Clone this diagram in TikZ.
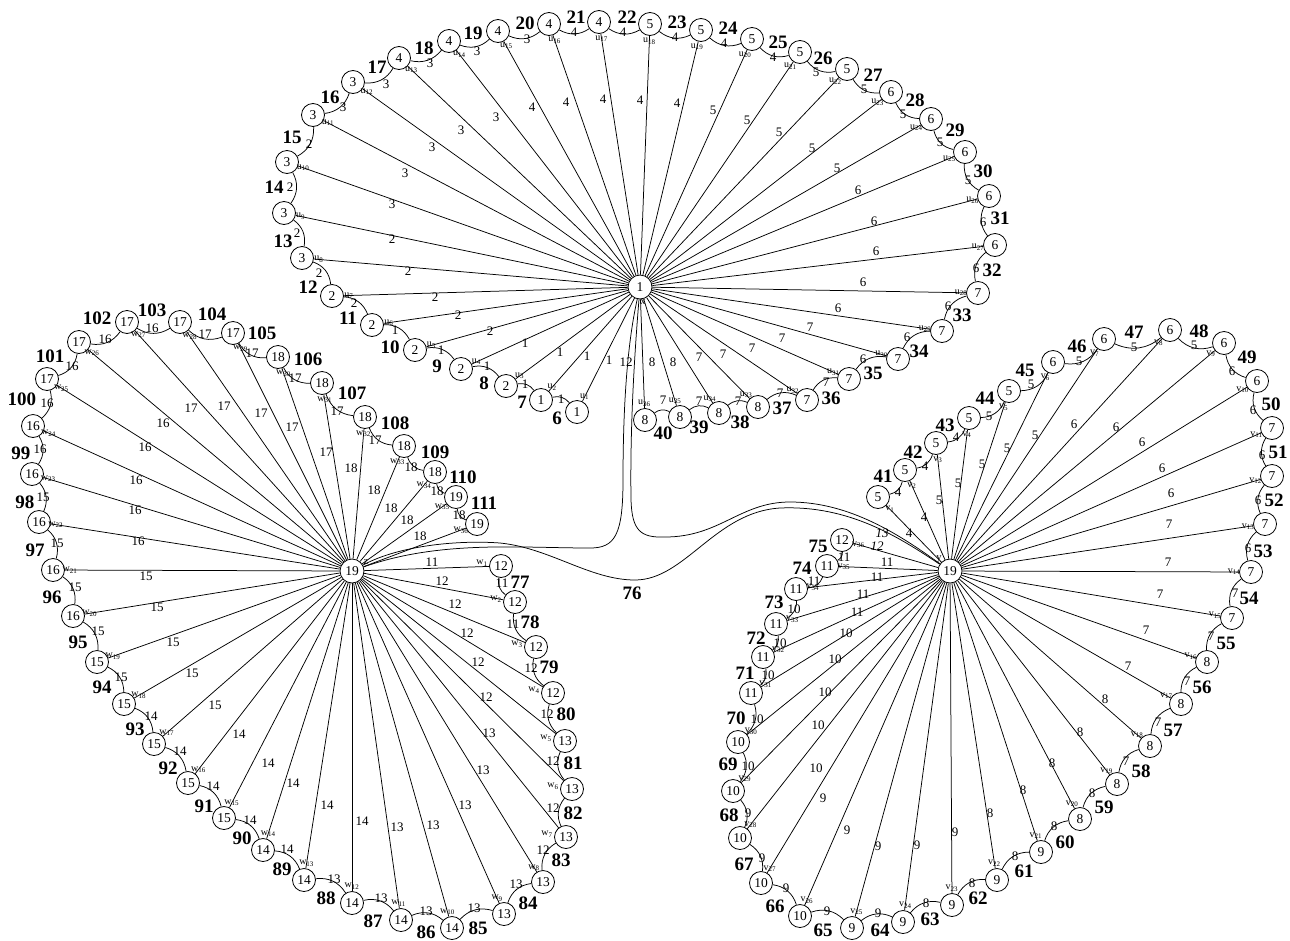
\documentclass[tikz,border=0pt]{standalone}
\usepackage{fontspec}
\setmainfont{Liberation Serif}
\usetikzlibrary{calc}
\pgfdeclarelayer{bg}
\pgfsetlayers{bg,main}
\tikzset{
  vtx/.style={circle,draw,fill=white,line width=0.8pt,minimum size=23pt,inner sep=0pt,font=\fontsize{13.5}{14}\selectfont},
  hub/.style={vtx,minimum size=24pt},
  edg/.style={line width=0.75pt},
  rim/.style={edg,bend right=32},
  wlab/.style={inner sep=0pt,font=\fontsize{13}{14}\selectfont},
  ilab/.style={inner sep=0pt,font=\fontsize{13}{14}\selectfont\itshape},
  blab/.style={inner sep=0pt,font=\fontsize{19}{20}\selectfont\bfseries},
  slab/.style={inner sep=0pt,font=\fontsize{10}{10}\selectfont},
  hlab/.style={inner sep=0pt,font=\fontsize{10.5}{11}\selectfont},
}
\begin{document}
\begin{tikzpicture}[x=1pt,y=1pt]
\useasboundingbox (0,-940) rectangle (1290,0);
% hubs
\node[hub] (x) at (640,-287) {1};
\node[hub] (z) at (352,-571) {19};
\node[hub] (y) at (950,-571) {19};
\node[hlab] (xl) at (643,-302) {x};
\node[hlab] (zl) at (366,-562) {z};
\node[hlab] (yl) at (939,-559) {y};

% ---------- top wheel ----------
\foreach \i/\px/\py/\nn/\ww/\lx/\ly in {
1/577/412/1/1/609/360, 2/541/400/1/1/587/356, 3/506/386/2/1/560/352, 4/461/369/2/1/525/343,
5/415/350/2/2/490/331, 6/372/325/2/2/458/315, 7/332/296/2/2/435/297, 8/302/258/3/2/408/271,
9/284/213/3/2/392/239, 10/287/162/3/3/392/204, 11/313/115/3/3/405/173, 12/353/82/3/3/432/147,
13/399/58/4/3/461/130, 14/449/41/4/3/496/117, 15/498/31/4/4/532/107, 16/549/24/4/4/566/102,
17/599/22/4/4/603/99, 18/650/24/5/4/640/100, 19/701/30/5/4/677/103, 20/752/39/5/5/713/110,
21/800/52/5/5/747/120, 22/847/69/5/5/779/132, 23/891/92/6/5/812/148, 24/931/119/6/5/837/168,
25/965/152/6/6/858/190, 26/989/196/6/6/874/221, 27/995/245/6/6/876/251, 28/978/293/7/6/863/282,
29/942/331/7/6/838/308, 30/898/359/7/7/810/327, 31/849/379/7/7/782/338, 32/807/400/7/7/752/348,
33/758/407/8/7/723/354, 34/719/413/8/7/699/357, 35/680/417/8/8/673/362, 36/645/420/8/8/652/362}{
  \node[vtx] (u\i) at (\px,-\py) {\nn};
  \node[wlab] at (\lx,-\ly) {\ww};
  \node[slab] at ($(u\i)!17pt!(x)$) {u\textsubscript{\i}};
}
% ---------- left wheel ----------
\foreach \i/\px/\py/\nn/\ww/\lx/\ly in {
1/501/566/12/11/432/562, 2/515/602/12/12/442/581, 3/536/647/12/12/455/604, 4/553/693/12/12/467/633,
5/565/741/13/12/478/662, 6/572/789/13/12/486/697, 7/566/837/13/13/489/733, 8/543/882/13/13/483/770,
9/504/914/13/13/465/805, 10/452/928/14/13/433/825, 11/401/920/14/13/397/827, 12/352/903/14/14/362/821,
13/304/880/14/14/327/805, 14/263/850/14/14/293/783, 15/224/818/15/14/268/763, 16/188/783/15/14/239/734,
17/154/744/15/15/215/705, 18/124/704/15/15/192/673, 19/97/662/15/15/173/642, 20/73/616/16/15/157/607,
21/53/570/16/15/146/576, 22/39/522/16/16/138/541, 23/32/474/16/16/135/510, 24/33/426/16/16/136/480,
25/47/379/17/16/145/447, 26/79/342/17/16/163/423, 27/127/322/17/17/191/408, 28/180/322/17/17/224/406,
29/233/333/17/17/261/413, 30/278/357/18/17/292/427, 31/322/383/18/17/326/452, 32/365/417/18/18/351/468,
33/404/446/18/18/374/490, 34/435/472/18/18/391/508, 35/456/497/19/18/407/520, 36/477/524/19/18/420/536}{
  \node[vtx] (w\i) at (\px,-\py) {\nn};
  \node[wlab] at (\lx,-\ly) {\ww};
  \ifnum\i<8
    \node[slab] at ($(w\i)+(-19,3)$) {w\textsubscript{\i}};
  \else
    \node[slab] at ($(w\i)!17pt!(z)$) {w\textsubscript{\i}};
  \fi
}
% ---------- right wheel ----------
\foreach \i/\px/\py/\nn/\ww/\lx/\ly in {
1/878/497/5/4/909/533, 2/905/470/5/4/924/517, 3/936/443/5/5/939/500, 4/969/418/5/5/958/483,
5/1009/391/5/5/982/464, 6/1053/362/6/5/1007/448, 7/1104/339/6/5/1035/435, 8/1170/330/6/6/1074/424,
9/1224/343/6/6/1116/427, 10/1257/381/6/6/1142/442, 11/1272/428/7/6/1162/468, 12/1272/476/7/6/1171/493,
13/1265/524/7/7/1169/524, 14/1251/572/7/7/1168/562, 15/1232/618/7/7/1160/594, 16/1207/662/8/7/1146/630,
17/1181/704/8/7/1128/666, 18/1150/746/8/8/1105/699, 19/1117/784/8/8/1080/732, 20/1080/819/8/8/1052/763,
21/1041/852/9/8/1023/790, 22/997/880/9/8/990/813, 23/952/905/9/9/955/832, 24/903/922/9/9/917/845,
25/852/928/9/9/878/846, 26/800/916/10/9/847/830, 27/761/883/10/9/823/798, 28/740/838/10/10/816/768,
29/733/791/10/10/818/725, 30/738/742/10/10/825/692, 31/751/693/11/10/835/659, 32/763/657/11/10/846/633,
33/776/624/11/11/857/612, 34/796/589/11/11/863/594, 35/827/566/11/11/877/577, 36/842/540/12/11/887/562}{
  \node[vtx] (v\i) at (\px,-\py) {\nn};
  \node[wlab] at (\lx,-\ly) {\ww};
  \node[slab] at ($(v\i)!17pt!(y)$) {v\textsubscript{\i}};
}

\begin{pgfonlayer}{bg}
% spokes
\foreach \i in {1,...,36}{
  \draw[edg] (x) -- (u\i);
  \draw[edg] (z) -- (w\i);
  \draw[edg] (y) -- (v\i);
}
% top rim
\foreach \i/\j/\ww/\wx/\wy/\bn/\bx/\by in {
1/2/1/561/399/6/557/418, 2/3/1/525/384/7/522/402, 3/4/1/487/366/8/484/383, 4/5/1/441/350/9/437/366,
5/6/1/395/330/10/390/347, 6/7/2/354/303/11/348/318, 7/8/2/319/273/12/308/287, 8/9/2/297/233/13/283/241,
9/10/2/290/187/14/274/187, 10/11/2/309/144/15/292/137, 11/12/3/343/107/16/330/97, 12/13/3/386/84/17/377/67,
13/14/3/430/63/18/424/48, 14/15/3/477/51/19/473/33, 15/16/3/527/39/20/525/23, 16/17/4/574/32/21/576/17,
17/18/4/623/32/22/627/17, 18/19/4/675/37/23/677/22, 19/20/4/724/43/24/728/28, 20/21/4/773/57/25/778/42,
21/22/5/816/72/26/823/58, 22/23/5/864/89/27/873/75, 23/24/5/903/114/28/915/100, 24/25/5/940/142/29/955/130,
25/26/5/968/180/30/983/171, 26/27/6/983/222/31/1000/218, 27/28/6/976/268/32/992/270, 28/29/6/948/306/33/962/315,
29/30/6/907/337/34/919/351, 30/31/6/863/359/35/873/373, 31/32/7/826/382/36/831/398, 32/33/7/780/393/37/782/408,
33/34/7/738/401/38/740/422, 34/35/7/699/401/39/699/427, 35/36/7/663/400/40/663/433}{
  \draw[rim] (u\i) to (u\j);
  \node[wlab] at (\wx,-\wy) {\ww};
  \node[blab] at (\bx,-\by) {\bn};
}
% left rim
\foreach \i/\j/\ww/\wx/\wy/\bn/\bx/\by in {
1/2/11/502/583/77/520/582, 2/3/11/513/624/78/530/622, 3/4/12/531/668/79/549/667, 4/5/12/547/714/80/566/714,
5/6/12/553/761/81/573/763, 6/7/12/553/808/82/573/813, 7/8/12/543/850/83/561/860, 8/9/13/516/884/84/528/903,
9/10/13/474/908/85/478/928, 10/11/13/426/911/86/426/932, 11/12/13/381/898/87/373/921, 12/13/13/334/879/88/326/898,
13/14/14/287/849/89/282/869, 14/15/14/250/820/90/242/838, 15/16/14/213/786/91/204/806, 16/17/14/180/751/92/168/768,
17/18/14/151/716/93/135/729, 18/19/15/121/677/94/102/687, 19/20/15/98/631/95/78/642, 20/21/15/75/587/96/52/597,
21/22/15/57/543/97/35/550, 22/23/15/43/497/98/25/502, 23/24/16/40/449/99/21/453, 24/25/16/47/403/100/22/399,
25/26/16/72/366/101/50/356, 26/27/16/105/339/102/97/318, 27/28/16/152/328/103/152/310, 28/29/17/205/334/104/212/314,
29/30/17/252/353/105/262/333, 30/31/17/295/378/106/308/359, 31/32/17/337/411/107/352/393, 32/33/17/375/440/108/395/423,
33/34/18/411/467/109/435/452, 34/35/18/437/491/110/463/477, 35/36/18/459/515/111/484/503}{
  \draw[rim] (w\i) to (w\j);
  \node[wlab] at (\wx,-\wy) {\ww};
  \node[blab] at (\bx,-\by) {\bn};
}
% right rim
\foreach \i/\j/\ww/\wx/\wy/\bn/\bx/\by in {
1/2/4/898/492/41/883/476, 2/3/4/925/466/42/913/452, 3/4/4/956/437/43/945/425, 4/5/5/989/416/44/985/398,
5/6/5/1031/384/45/1025/370, 6/7/5/1079/361/46/1077/346, 7/8/5/1134/347/47/1134/332, 8/9/5/1194/345/48/1199/331,
9/10/6/1232/371/49/1247/357, 10/11/6/1253/410/50/1271/404, 11/12/6/1262/455/51/1278/452, 12/13/6/1258/500/52/1274/500,
13/14/6/1248/548/53/1263/551, 14/15/7/1235/593/54/1249/598, 15/16/7/1211/636/55/1226/643, 16/17/7/1187/681/56/1202/687,
17/18/7/1158/722/57/1173/730, 18/19/7/1126/761/58/1141/771, 19/20/8/1092/793/59/1104/807, 20/21/8/1054/826/60/1065/842,
21/22/8/1015/856/61/1024/871, 22/23/8/972/883/62/978/898, 23/24/8/926/903/63/930/919, 24/25/9/878/913/64/880/930,
25/26/9/827/911/65/823/930, 26/27/9/786/888/66/775/906, 27/28/9/762/858/67/744/864, 28/29/9/748/813/68/729/815,
29/30/10/748/766/69/728/764, 30/31/10/757/719/70/736/718, 31/32/10/768/675/71/745/673, 32/33/10/780/643/72/756/638,
33/34/10/794/609/73/774/602, 34/35/11/814/581/74/802/568, 35/36/11/844/557/75/818/546}{
  \draw[rim] (v\i) to (v\j);
  \node[wlab] at (\wx,-\wy) {\ww};
  \node[blab] at (\bx,-\by) {\bn};
}
% long connectors between hubs
\draw[edg] (x) .. controls (628,-340) and (623,-400) .. (623,-480)
  .. controls (623,-535) and (615,-548) .. (590,-548)
  .. controls (520,-548) and (440,-540) .. (z);
\draw[edg] (x) .. controls (634,-360) and (630,-430) .. (631,-500)
  .. controls (632,-530) and (640,-538) .. (665,-537)
  .. controls (720,-537) and (740,-502) .. (790,-502)
  .. controls (850,-502) and (900,-535) .. (y);
\draw[edg] (z) .. controls (400,-545) and (460,-540) .. (500,-543)
  .. controls (550,-548) and (590,-580) .. (635,-580)
  .. controls (685,-580) and (715,-512) .. (780,-508)
  .. controls (850,-505) and (900,-538) .. (y);
\end{pgfonlayer}
\node[wlab] (xz) at (626,-362) {12};
\node[ilab] (xy) at (882,-533) {13};
\node[ilab] (zy) at (877,-546) {12};
\node[blab] (zyn) at (632,-593) {76};
\end{tikzpicture}
\end{document}
